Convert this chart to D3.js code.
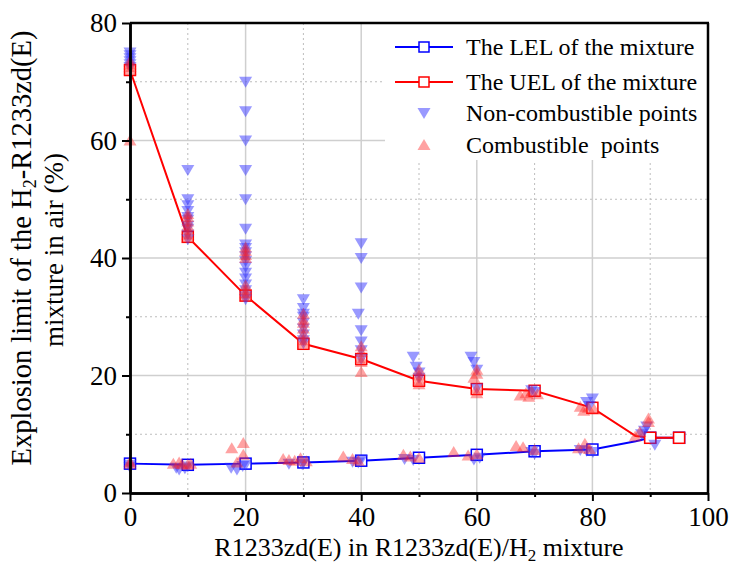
<!DOCTYPE html>
<html>
<head>
<meta charset="utf-8">
<script src="https://cdn.jsdelivr.net/npm/d3@7"></script>
<style>
  body { margin: 0; background: #fff; }
  text { font-family: "Liberation Serif", "Times New Roman", serif; }
</style>
</head>
<body>
<svg id="chart" width="730" height="566"></svg>
<script>
// LEL / UEL curves
const lelX = [0, 10, 20, 30, 40, 50, 60, 70, 80, 87.5, 90, 95];
const lelY = [5.0, 4.8, 5.0, 5.2, 5.5, 6.0, 6.5, 7.1, 7.4, 8.8, 9.4, 9.4];
const uelX = [0, 10, 20, 30, 40, 50, 60, 70, 80, 87.5, 90, 95];
const uelY = [72, 43.6, 33.6, 25.4, 22.8, 19.1, 17.7, 17.4, 14.5, 9.7, 9.4, 9.4];
const squareX = [0, 10, 20, 30, 40, 50, 60, 70, 80, 90, 95];

// measured points [x, y]
const nonCombustible = [
  [0, 75], [0, 74.5], [0, 74], [0, 73.5], [0, 73], [0, 72.5], [0, 4.4], [0, 4.8],
  [10, 55], [10, 50], [10, 49], [10, 48], [10, 47], [10, 46.5], [10, 45.5], [10, 45], [10, 44], [10, 43.2],
  [8, 4.3], [8.5, 4.0], [9.5, 4.2], [10, 4.5],
  [20, 70], [20, 65], [20, 60], [20, 55], [20, 50], [20, 45], [20, 42.3], [20, 41.7], [20, 41], [20, 40.3],
  [20, 39.5], [20, 38.5], [20, 37.5], [20, 36.5], [20, 35.5], [20, 34.5], [20, 33.5], [20, 33],
  [17.5, 4.3], [18.5, 4.0], [19.5, 4.6], [20, 4.8],
  [30, 33], [30, 31.5], [30, 30.5], [30, 30], [30, 29], [30, 28], [30, 27], [30, 26], [30, 25.5],
  [27.5, 5.0], [29.8, 4.9], [30, 5.2],
  [40, 42.5], [40, 40], [40, 35], [39.5, 30.5], [40, 27.7], [40, 25.8], [40, 24.3], [40, 22.8],
  [38.5, 5.3], [39.5, 5.2], [40, 5.6],
  [49, 23.2], [49.5, 21.5], [50, 20.5], [50, 19.6], [47.5, 5.8], [49, 5.6],
  [59, 23.2], [59.5, 22.3], [60, 21], [60, 17.8], [59.5, 5.7], [60.5, 6.0],
  [69.5, 17.5], [70, 17.2], [69.5, 7.0], [70, 6.7],
  [79, 15.5], [80, 16.1], [79.5, 14.8], [77.9, 7.3], [80.1, 7.0], [79, 7.2],
  [89.4, 11.3], [89, 10.6], [88.5, 10], [90.8, 8.2]
];
const combustible = [
  [0, 73.5], [0, 73], [0, 72.5], [0, 72], [0, 60], [0, 5.3], [0, 5.0],
  [10, 47.5], [10, 47], [10, 46.2], [10, 45.5], [10, 44.8], [10, 44], [10, 43.5],
  [7.5, 5.0], [8.5, 5.2], [9, 4.9], [10, 4.8], [10.5, 5.0],
  [20, 41.8], [20, 41.2], [20, 40.5], [20, 40], [20, 35.3], [20, 34.6], [20, 34], [20, 33.5],
  [17.6, 7.6], [19.6, 8.5], [19.6, 6.5], [18.5, 5.2],
  [30, 30.5], [30, 29.5], [30, 29], [30, 28], [30, 27], [30, 26], [30, 25.5],
  [26.5, 5.8], [27.5, 5.6], [28.5, 5.5], [29.5, 5.9], [30.5, 5.4],
  [40, 25], [40, 24], [40, 23], [40, 22.3], [40, 20.6], [36.9, 6.2], [38.5, 5.8], [39.5, 5.5],
  [50, 21], [50, 20], [50, 19.2], [50, 18.5], [47.3, 6.5], [48.5, 6.2], [50, 6.0],
  [60, 21], [60, 20.3], [59.5, 19.6], [60, 17.8], [60, 17.0], [56, 7.0], [58.5, 6.4], [60, 6.6],
  [67.5, 16.6], [68.5, 17], [69.5, 17.3], [70.5, 16.8], [69, 16.4], [66.8, 8.0], [68, 7.8], [70, 7.3],
  [77.9, 14.7], [79.3, 14.5], [78.5, 14], [80.3, 14.2], [77.6, 7.6], [78.7, 8.4], [79.5, 7.5],
  [87.4, 9.6], [88.2, 10.4], [89.7, 12.7], [89.7, 12.1]
];

const xMajor = [0, 20, 40, 60, 80, 100];
const xMinor = [10, 30, 50, 70, 90];
const yMajor = [0, 20, 40, 60, 80];
const yMinor = [10, 30, 50, 70];

const svg = d3.select("#chart");
const pLeft = 130, pRight = 708, pTop = 23, pBottom = 493;

const x = d3.scaleLinear().domain([0, 100]).range([pLeft, pRight]);
const y = d3.scaleLinear().domain([0, 80]).range([pBottom, pTop]);

// grid
const grid = svg.append("g");
grid.selectAll(".vmaj").data(xMajor.slice(1, -1)).join("line")
  .attr("x1", d => x(d)).attr("x2", d => x(d)).attr("y1", pTop).attr("y2", pBottom)
  .attr("stroke", "#cfcfcf").attr("stroke-width", 1.5);
grid.selectAll(".vmin").data(xMinor).join("line")
  .attr("x1", d => x(d)).attr("x2", d => x(d)).attr("y1", pTop).attr("y2", pBottom)
  .attr("stroke", "#bdbdbd").attr("stroke-width", 1).attr("stroke-dasharray", "2,3");
grid.selectAll(".hmaj").data(yMajor.slice(1, -1)).join("line")
  .attr("x1", pLeft).attr("x2", pRight).attr("y1", d => y(d)).attr("y2", d => y(d))
  .attr("stroke", "#cfcfcf").attr("stroke-width", 1.5);
grid.selectAll(".hmin").data(yMinor).join("line")
  .attr("x1", pLeft).attr("x2", pRight).attr("y1", d => y(d)).attr("y2", d => y(d))
  .attr("stroke", "#bdbdbd").attr("stroke-width", 1).attr("stroke-dasharray", "2,3");

// legend background hides the grid behind it
svg.append("rect").attr("x", 385).attr("y", pTop + 1).attr("width", pRight - 386).attr("height", 136)
  .attr("fill", "#fff");

// curves
const line = d3.line().x(d => x(d[0])).y(d => y(d[1]));
const curves = [
  { xs: lelX, ys: lelY, color: "#0000ff" },
  { xs: uelX, ys: uelY, color: "#ff0000" }
];
curves.forEach(c => {
  const pts = c.xs.map((v, i) => [v, c.ys[i]]);
  svg.append("path").datum(pts).attr("d", line)
    .attr("fill", "none").attr("stroke", c.color).attr("stroke-width", 2);
  svg.append("g").selectAll("rect")
    .data(pts.filter(p => squareX.includes(p[0])))
    .join("rect")
      .attr("x", d => x(d[0]) - 5.5).attr("y", d => y(d[1]) - 5.5)
      .attr("width", 11).attr("height", 11)
      .attr("fill", "#fff").attr("stroke", c.color).attr("stroke-width", 1.5);
});

// triangles
const triDown = "M-6.5,-5L6.5,-5L0,6Z";
const triUp = "M-6.5,5L6.5,5L0,-6Z";
svg.append("g").selectAll("path").data(nonCombustible).join("path")
  .attr("d", triDown)
  .attr("transform", d => `translate(${x(d[0])},${y(d[1])})`)
  .attr("fill", "#3333ff").attr("fill-opacity", 0.5);
svg.append("g").selectAll("path").data(combustible).join("path")
  .attr("d", triUp)
  .attr("transform", d => `translate(${x(d[0])},${y(d[1])})`)
  .attr("fill", "#ff2222").attr("fill-opacity", 0.42);

// axes
const axisStyle = g => {
  g.select(".domain").attr("stroke", "#000").attr("stroke-width", 2.5);
  g.selectAll(".tick line").attr("stroke", "#000").attr("stroke-width", 2);
  g.selectAll(".tick text").attr("font-size", 27).attr("fill", "#000")
    .attr("font-family", "Liberation Serif, Times New Roman, serif");
};
svg.append("g").attr("transform", `translate(0,${pBottom})`)
  .call(d3.axisBottom(x).tickValues(xMinor).tickSize(4).tickFormat("").tickSizeOuter(0))
  .call(axisStyle);
svg.append("g").attr("transform", `translate(${pLeft},0)`)
  .call(d3.axisLeft(y).tickValues(yMinor).tickSize(4).tickFormat("").tickSizeOuter(0))
  .call(axisStyle);
svg.append("g").attr("transform", `translate(0,${pBottom})`)
  .call(d3.axisBottom(x).tickValues(xMajor).tickSize(8).tickPadding(6).tickSizeOuter(0))
  .call(axisStyle);
svg.append("g").attr("transform", `translate(${pLeft},0)`)
  .call(d3.axisLeft(y).tickValues(yMajor).tickSize(8).tickPadding(5).tickSizeOuter(0))
  .call(axisStyle);

// frame top and right
svg.append("line").attr("x1", pLeft).attr("x2", pRight + 1).attr("y1", pTop).attr("y2", pTop)
  .attr("stroke", "#000").attr("stroke-width", 2.5);
svg.append("line").attr("x1", pRight).attr("x2", pRight).attr("y1", pTop).attr("y2", pBottom)
  .attr("stroke", "#000").attr("stroke-width", 2.5);

// axis titles
const xt = svg.append("text").attr("x", (pLeft + pRight) / 2).attr("y", 556)
  .attr("text-anchor", "middle").attr("font-size", 26);
xt.append("tspan").text("R1233zd(E) in R1233zd(E)/H");
xt.append("tspan").attr("font-size", 17).attr("dy", 5).text("2");
xt.append("tspan").attr("dy", -5).text(" mixture");

const yt = svg.append("text").attr("transform", "translate(31,248) rotate(-90)")
  .attr("text-anchor", "middle").attr("font-size", 28.5);
yt.append("tspan").text("Explosion limit of the H");
yt.append("tspan").attr("font-size", 18).attr("dy", 5).text("2");
yt.append("tspan").attr("dy", -5).text("-R1233zd(E)");
svg.append("text").attr("transform", "translate(63,250) rotate(-90)")
  .attr("text-anchor", "middle").attr("font-size", 27).text("mixture in air (%)");

// legend
const legend = svg.append("g");
const legRows = [
  { label: "The LEL of the mixture", kind: "line", color: "#0000ff" },
  { label: "The UEL of the mixture", kind: "line", color: "#ff0000" },
  { label: "Non-combustible points", kind: "down" },
  { label: "Combustible  points", kind: "up" }
];
const legY = [47, 82, 113, 145];
legRows.forEach((r, i) => {
  const g = legend.append("g").attr("transform", `translate(0,${legY[i]})`);
  if (r.kind === "line") {
    g.append("line").attr("x1", 395).attr("x2", 453).attr("stroke", r.color).attr("stroke-width", 2);
    g.append("rect").attr("x", 419).attr("y", -5).attr("width", 10).attr("height", 10)
      .attr("fill", "#fff").attr("stroke", r.color).attr("stroke-width", 1.5);
  } else if (r.kind === "down") {
    g.append("path").attr("d", triDown).attr("transform", "translate(424,0)")
      .attr("fill", "#3333ff").attr("fill-opacity", 0.5);
  } else {
    g.append("path").attr("d", triUp).attr("transform", "translate(424,0)")
      .attr("fill", "#ff2222").attr("fill-opacity", 0.42);
  }
  g.append("text").attr("x", 466).attr("dy", "0.35em").attr("font-size", 24)
    .style("white-space", "pre").text(r.label);
});
</script>
</body>
</html>
